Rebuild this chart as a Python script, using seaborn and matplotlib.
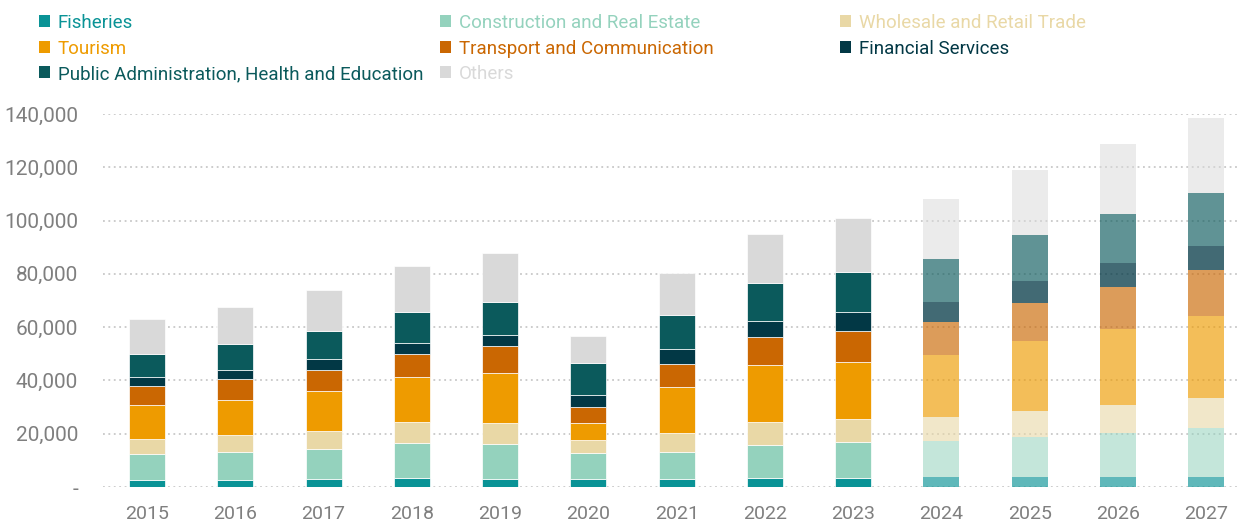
import numpy as np
import pandas as pd
import matplotlib
matplotlib.use("Agg")
import matplotlib.pyplot as plt
from matplotlib.patches import Patch
from matplotlib.ticker import FuncFormatter
import seaborn as sns

years = ["2015", "2016", "2017", "2018", "2019", "2020", "2021",
         "2022", "2023", "2024", "2025", "2026", "2027"]
forecast_years = ["2024", "2025", "2026", "2027"]

sectors = ["Fisheries", "Construction and Real Estate", "Wholesale and Retail Trade",
           "Tourism", "Transport and Communication", "Financial Services",
           "Public Administration, Health and Education", "Others"]

fisheries = [2500, 2500, 2900, 3400, 3000, 3000, 3100, 3400, 3400, 3600, 3600, 3600, 3900]
construction = [9800, 10500, 11200, 13100, 13200, 9600, 10000, 12500, 13500, 13600, 15100, 16800, 18100]
wholesale = [5600, 6400, 6900, 7800, 7800, 4900, 7100, 8400, 8500, 8900, 9700, 10300, 11300]
tourism = [12800, 13200, 14900, 16900, 18900, 6400, 17200, 21400, 21400, 23400, 26300, 28500, 30800]
transport = [7100, 7800, 8100, 8600, 9900, 6000, 8600, 10500, 11700, 12500, 14500, 15900, 17400]
financial = [3300, 3700, 4200, 4300, 4300, 4700, 5800, 6200, 7100, 7600, 8100, 8900, 9100]
public = [9000, 9400, 10200, 11500, 12500, 11900, 12700, 14100, 15000, 15900, 17100, 18300, 19600]
others = [13100, 14100, 15600, 17500, 18300, 10300, 16000, 18300, 20300, 22600, 24600, 26400, 28300]

colors = ["#0A9396", "#94D2BD", "#E9D8A6", "#EE9B00", "#CA6702",
          "#023845", "#0B5A5C", "#D9D9D9"]
# forecast years are drawn see-through
forecast_alpha = [0.65, 0.55, 0.6, 0.65, 0.65, 0.75, 0.65, 0.5]

series = [fisheries, construction, wholesale, tourism, transport, financial, public, others]

df = pd.DataFrame({"year": years})
for name, vals in zip(sectors, series):
    df[name] = vals
is_fc = df["year"].isin(forecast_years).values

sns.set_theme(style="white")
plt.rcParams["font.family"] = ["Roboto", "DejaVu Sans"]

fig = plt.figure(figsize=(12.39, 5.22), dpi=100)
ax = fig.add_axes([103 / 1239, 1 - 487 / 522, 1136 / 1239, 373 / 522])

# stacked bars, actual years solid, forecast years translucent
bottoms = np.zeros(len(years))
for name, col, a in zip(sectors, colors, forecast_alpha):
    sns.barplot(data=df[~is_fc], x="year", y=name, order=years, color=col, saturation=1,
                width=0.41, bottom=bottoms[~is_fc], ax=ax,
                edgecolor="white", linewidth=0.5, zorder=3)
    sns.barplot(data=df[is_fc], x="year", y=name, order=years, color=col, saturation=1,
                width=0.41, bottom=bottoms[is_fc], ax=ax,
                alpha=a, linewidth=0, zorder=3)
    bottoms = bottoms + df[name].values

ax.set_ylim(0, 140000)
ax.set_xlim(-0.5, -0.5 + 1136 / 88.25)
ax.set_yticks(range(0, 140001, 20000))
ax.yaxis.set_major_formatter(FuncFormatter(lambda v, p: "-" if v == 0 else f"{int(v):,}"))
ax.grid(axis="y", linestyle=(0, (1, 2)), color="#c8c8c8", linewidth=1.3, zorder=0)
ax.set_axisbelow(True)
for s in ax.spines.values():
    s.set_visible(False)
ax.set_xlabel("")
ax.set_ylabel("")
ax.tick_params(axis="both", length=0, labelcolor="#7f7f7f")
ax.tick_params(axis="y", labelsize=15, pad=18)
ax.tick_params(axis="x", labelsize=14, pad=13)

# legend in three columns, text tinted like the patches
columns = [[0, 3, 6], [1, 4, 7], [2, 5]]
x_starts = [39, 440, 840]
for idx, x0 in zip(columns, x_starts):
    handles = [Patch(facecolor=colors[i], edgecolor="none", label=sectors[i]) for i in idx]
    leg = fig.legend(handles=handles, loc="upper left",
                     bbox_to_anchor=(x0 / 1239, 1 - 14 / 522),
                     frameon=False, fontsize=13.5, handlelength=0.6, handleheight=0.6,
                     handletextpad=0.4, labelspacing=0.4, borderpad=0, borderaxespad=0)
    for txt, i in zip(leg.get_texts(), idx):
        txt.set_color(colors[i])

fig.savefig("out.png", dpi=100)
